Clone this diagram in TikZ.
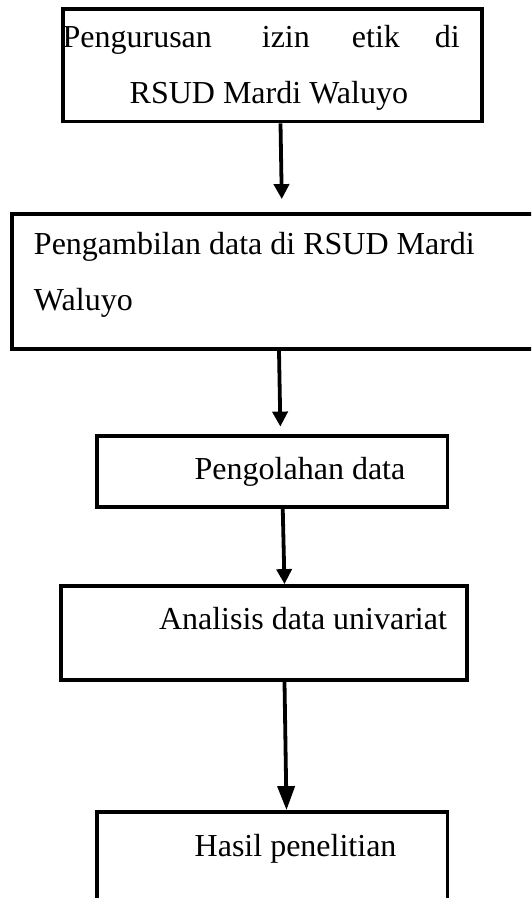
\documentclass[tikz,border=0pt]{standalone}
\usepackage{fontspec}
\setmainfont{Liberation Serif}
\usetikzlibrary{arrows.meta}

\tikzset{
  box/.style={draw=black, line width=3.8pt, rectangle, inner sep=0pt, fill=none},
  label/.style={anchor=base west, inner sep=0pt, outer sep=0pt,
                font=\fontsize{32}{38}\selectfont, text=black},
  arr/.style={draw=black, line width=3.8pt,
              -{Triangle[length=15pt,width=15pt]}},
  arrbig/.style={draw=black, line width=3.8pt,
                 -{Triangle[length=24pt,width=17pt]}}
}

\begin{document}
\begin{tikzpicture}[x=1pt, y=-1pt]
  \useasboundingbox (0,0) rectangle (531,898);
  \clip (0,0) rectangle (531,898);

  % boxes of the flow
  \node[box, minimum width=419pt, minimum height=112.5pt] (b1) at (272.5,65.25) {};
  \node[box, minimum width=533pt, minimum height=135pt]   (b2) at (278.5,281.5) {};
  \node[box, minimum width=350.5pt, minimum height=71pt]  (b3) at (272.25,471.5) {};
  \node[box, minimum width=406pt, minimum height=94pt]    (b4) at (264,633) {};
  \node[box, minimum width=350.5pt, minimum height=118pt] (b5) at (272.25,871) {};

  % box texts
  \node[label] (t1a) at (62.6,47.4) {Pengurusan\hspace{50pt}izin\hspace{42pt}etik\hspace{35pt}di};
  \node[label] (t1b) at (129.7,103.3) {RSUD Mardi Waluyo};
  \node[label] (t2a) at (34,254) {Pengambilan data di RSUD Mardi};
  \node[label] (t2b) at (34,310) {Waluyo};
  \node[label] (t3)  at (194.7,479) {Pengolahan data};
  \node[label] (t4)  at (159,629) {Analisis data univariat};
  \node[label] (t5)  at (194.7,856) {Hasil penelitian};

  % connectors
  \draw[arr, shorten >=13pt] ([xshift=8pt]b1.south) -- ([xshift=3.5pt]b2.north);
  \draw[arr, shorten >=7.5pt] ([xshift=0.5pt]b2.south) -- ([xshift=8.25pt]b3.north);
  \draw[arr] ([xshift=10.5pt]b3.south) -- ([xshift=20.5pt]b4.north);
  \draw[arrbig] ([xshift=20.5pt]b4.south) -- ([xshift=14.25pt]b5.north);
\end{tikzpicture}
\end{document}
